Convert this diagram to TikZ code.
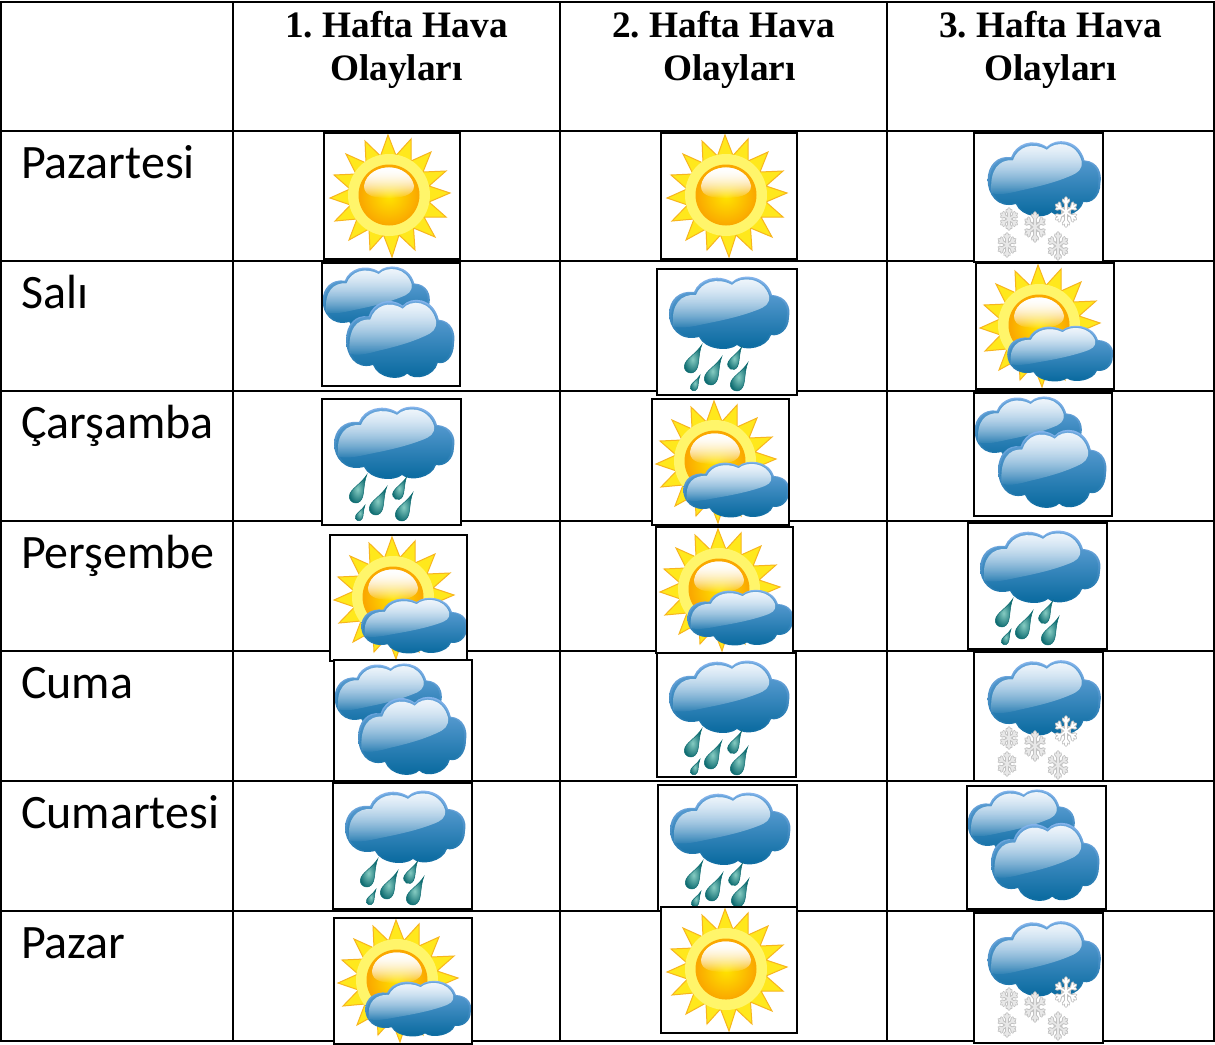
\documentclass[tikz,border=0pt]{standalone}
\usepackage{fontspec}
\usetikzlibrary{fadings}
\setmainfont{Liberation Serif}
\newfontfamily\labelfont{Carlito}
\frenchspacing
\definecolor{sunedge}{HTML}{F7B51E}
\definecolor{sunmain}{HTML}{FFE81C}
\definecolor{sunglow}{HTML}{FFF56A}
\definecolor{ballout}{HTML}{FAA800}
\definecolor{ballin}{HTML}{FFE400}
\definecolor{cloudedgetop}{HTML}{8CB8F0}
\definecolor{cloudedgebot}{HTML}{08699E}
\definecolor{cloudtop}{HTML}{70AAE0}
\definecolor{cloudmid}{HTML}{4C96CC}
\definecolor{cloudbot}{HTML}{06689D}
\definecolor{dropdark}{HTML}{0D6B70}
\definecolor{droplight}{HTML}{86CCC2}
\def\sunstar{(-1,-60)--(7,-39.5)--(22,-56)--(22,-34)--(42,-43)--(34,-23)--(57,-24)--(40,-9)--(61,-2)--(40,7)--(57,22)--(35,22)--(46,42)--(24.5,33)--(26,55)--(10,40)--(3,62)--(-5.5,40)--(-19,55)--(-20,34)--(-40,45)--(-32,24)--(-54,26)--(-38.5,10)--(-59,3)--(-39,-6)--(-55,-20)--(-33,-21)--(-43,-41)--(-23,-32)--(-24,-54)--(-8.5,-39)--cycle}
\def\cloudpath{(-60,2) .. controls (-60,-12) and (-50,-22) .. (-35,-20) .. controls (-30,-33) and (-12,-39) .. (3,-30) .. controls (12,-39) and (37,-38) .. (43,-17) .. controls (58,-16) and (62,-4) .. (60,5) .. controls (60,18) and (50,25) .. (42,23) .. controls (38,36) and (16,40) .. (8,33) .. controls (0,40) and (-24,38) .. (-30,25) .. controls (-50,30) and (-60,15) .. (-60,2) -- cycle}
\def\glosspath{(-56,14) .. controls (-58,-8) and (-48,-18) .. (-33,-17) .. controls (-28,-30) and (-12,-35) .. (3,-27) .. controls (12,-36) and (34,-35) .. (40,-16) .. controls (41,-8) and (36,-5) .. (28,-2) .. controls (10,5) and (-10,9) .. (-25,12) .. controls (-38,15) and (-50,17) .. (-56,14) -- cycle}
\def\ballgloss{(-25,-9) .. controls (-23,-22) and (-10,-27.5) .. (0,-27.5) .. controls (12,-27.5) and (23,-20) .. (25,-9) .. controls (25,1) and (10,3) .. (0,3) .. controls (-12,3) and (-25,2) .. (-25,-9) -- cycle}
\newcommand{\drawsun}[2]{%
  \begin{scope}[shift={(#1,#2)}]
    \path[fill=sunmain,draw=sunedge,line width=1pt,line join=miter] \sunstar;
    \fill[sunglow] (0,0) circle (41);
    \fill[ballout] (0,0) circle (30.5);
    \shade[inner color=ballin,outer color=ballout] (0,1) circle (29);
    \fill[white,path fading=south] \ballgloss;
    \fill[white,path fading=south] \ballgloss;
  \end{scope}}
\newcommand{\drawcloud}[4]{%
  \begin{scope}[shift={(#1,#2)},xscale=#3,yscale=#4]
    \shade[top color=cloudedgetop,middle color=cloudedgetop!60!cloudedgebot,bottom color=cloudedgebot] \cloudpath;
    \begin{scope}[scale=.96]
      \shade[top color=cloudtop,middle color=cloudmid,bottom color=cloudbot] \cloudpath;
    \end{scope}
    \fill[white,path fading=south,fill opacity=.85] \glosspath;
    \fill[white,path fading=south,fill opacity=.5] \glosspath;
  \end{scope}}
\newcommand{\raindrop}[3]{%
  \begin{scope}[shift={(#1,#2)},rotate=-27,scale=#3]
    \shade[inner color=droplight,outer color=dropdark,draw=dropdark,line width=.5pt]
      (0,-24) .. controls (1,-14) and (6.5,-6) .. (6.5,0) .. controls (6.5,4.5) and (3.5,7) .. (0,7) .. controls (-3.5,7) and (-6.5,4.5) .. (-6.5,0) .. controls (-6.5,-6) and (-1,-14) .. (0,-24) -- cycle;
  \end{scope}}
\newcommand{\flake}[5]{%
  \begin{scope}[shift={(#1,#2)},xscale=#3,yscale=#4]
    \fill[black!20] (0,0) circle (4.5);
    \foreach \w/\c in {3.6/black!24,1.6/#5}{
      \foreach \ang in {30,90,150,210,270,330}{
        \begin{scope}[rotate=\ang]
          \draw[line width=\w pt,color=\c,line cap=round] (0,0)--(10,0) (6,0)--(8.5,2.4) (6,0)--(8.5,-2.4);
        \end{scope}
      }
    }
  \end{scope}}
\tikzset{
  gridline/.style={line width=2pt,black},
  iconframe/.style={draw=black,line width=2pt},
  headtext/.style={font=\fontsize{37.3}{43}\selectfont\bfseries,align=center,anchor=north,inner sep=0pt},
  daytext/.style={font=\labelfont\fontsize{48}{52}\selectfont,anchor=base west,inner sep=0pt},
  pics/sunicon/.style={code={\drawsun{65}{62}}},
  pics/snowicon/.style={code={%
    \drawcloud{70}{45}{.94}{1.04}%
    \flake{35}{86}{.85}{1.0}{black!9}\flake{61}{94}{1.05}{1.4}{black!9}\flake{33}{112}{.9}{1.1}{black!9}\flake{84}{113}{1}{1.3}{black!9}\flake{92}{79}{1.1}{1.4}{white}}},
  pics/rainicon/.style={code={%
    \drawcloud{72}{43}{1}{1}%
    \raindrop{34}{97}{1}\raindrop{54}{109}{1}\raindrop{76}{95}{.8}\raindrop{80}{115}{1}\raindrop{37}{118}{.55}}},
  pics/partlyicon/.style={code={%
    \drawsun{63}{62}\drawcloud{84}{90}{.88}{.77}}},
  pics/twocloudicon/.style={code={%
    \drawcloud{54}{36}{.89}{.92}\drawcloud{78}{75}{.9}{1.08}}},
}
\begin{document}
\begin{tikzpicture}[x=1pt,y=-1pt]
\useasboundingbox (0,0) rectangle (1215,1044);
\fill[white] (0,0) rectangle (1215,1044);
% table grid
\foreach \gx in {1,233,560,887,1214}{\draw[gridline] (\gx,2)--(\gx,1041);}
\foreach \gy in {2,131,261,391,521,651,781,911,1041}{\draw[gridline] (0,\gy)--(1215,\gy);}
% header
\node[headtext] (h1) at (396.5,11) {1. Hafta Hava\\Olayları};
\node[headtext] (h2) at (723.5,11) {2. Hafta Hava\\\hspace*{12pt}Olayları};
\node[headtext] (h3) at (1050.5,11) {3. Hafta Hava\\Olayları};
% row labels
\node[daytext] (d1) at (20.8,178.5) {Pazartesi};
\node[daytext] (d2) at (20.8,308.5) {Salı};
\node[daytext] (d3) at (20.8,438.5) {Çarşamba};
\node[daytext] (d4) at (20.8,568.5) {Perşembe};
\node[daytext] (d5) at (20.8,698.5) {Cuma};
\node[daytext] (d6) at (20.8,828.5) {Cumartesi};
\node[daytext] (d7) at (20.8,958.5) {Pazar};
% icons
\foreach \t/\xa/\ya/\xb/\yb in {
  sunicon/324/133/460/259, sunicon/661/133/797/259, snowicon/974/133/1103/262,
  twocloudicon/322/263/460/386, rainicon/657/269/797/395, partlyicon/976/263/1114/389,
  rainicon/322/399/461/525, partlyicon/652/399/789/525, twocloudicon/974/393/1112/516,
  partlyicon/330/535/467/661, partlyicon/656/527/793/653, rainicon/968/523/1107/649,
  twocloudicon/334/660/472/781, rainicon/657/653/796/777, snowicon/974/652/1103/781,
  rainicon/333/783/472/909, rainicon/658/785/797/911, twocloudicon/967/786/1106/909,
  partlyicon/334/918/472/1044, sunicon/661/907/797/1033, snowicon/974/913/1103/1043}{
  \fill[white] (\xa,\ya) rectangle (\xb,\yb);
  \pic at (\xa,\ya) {\t};
  \draw[iconframe] (\xa,\ya) rectangle (\xb,\yb);
}
\end{tikzpicture}
\end{document}
